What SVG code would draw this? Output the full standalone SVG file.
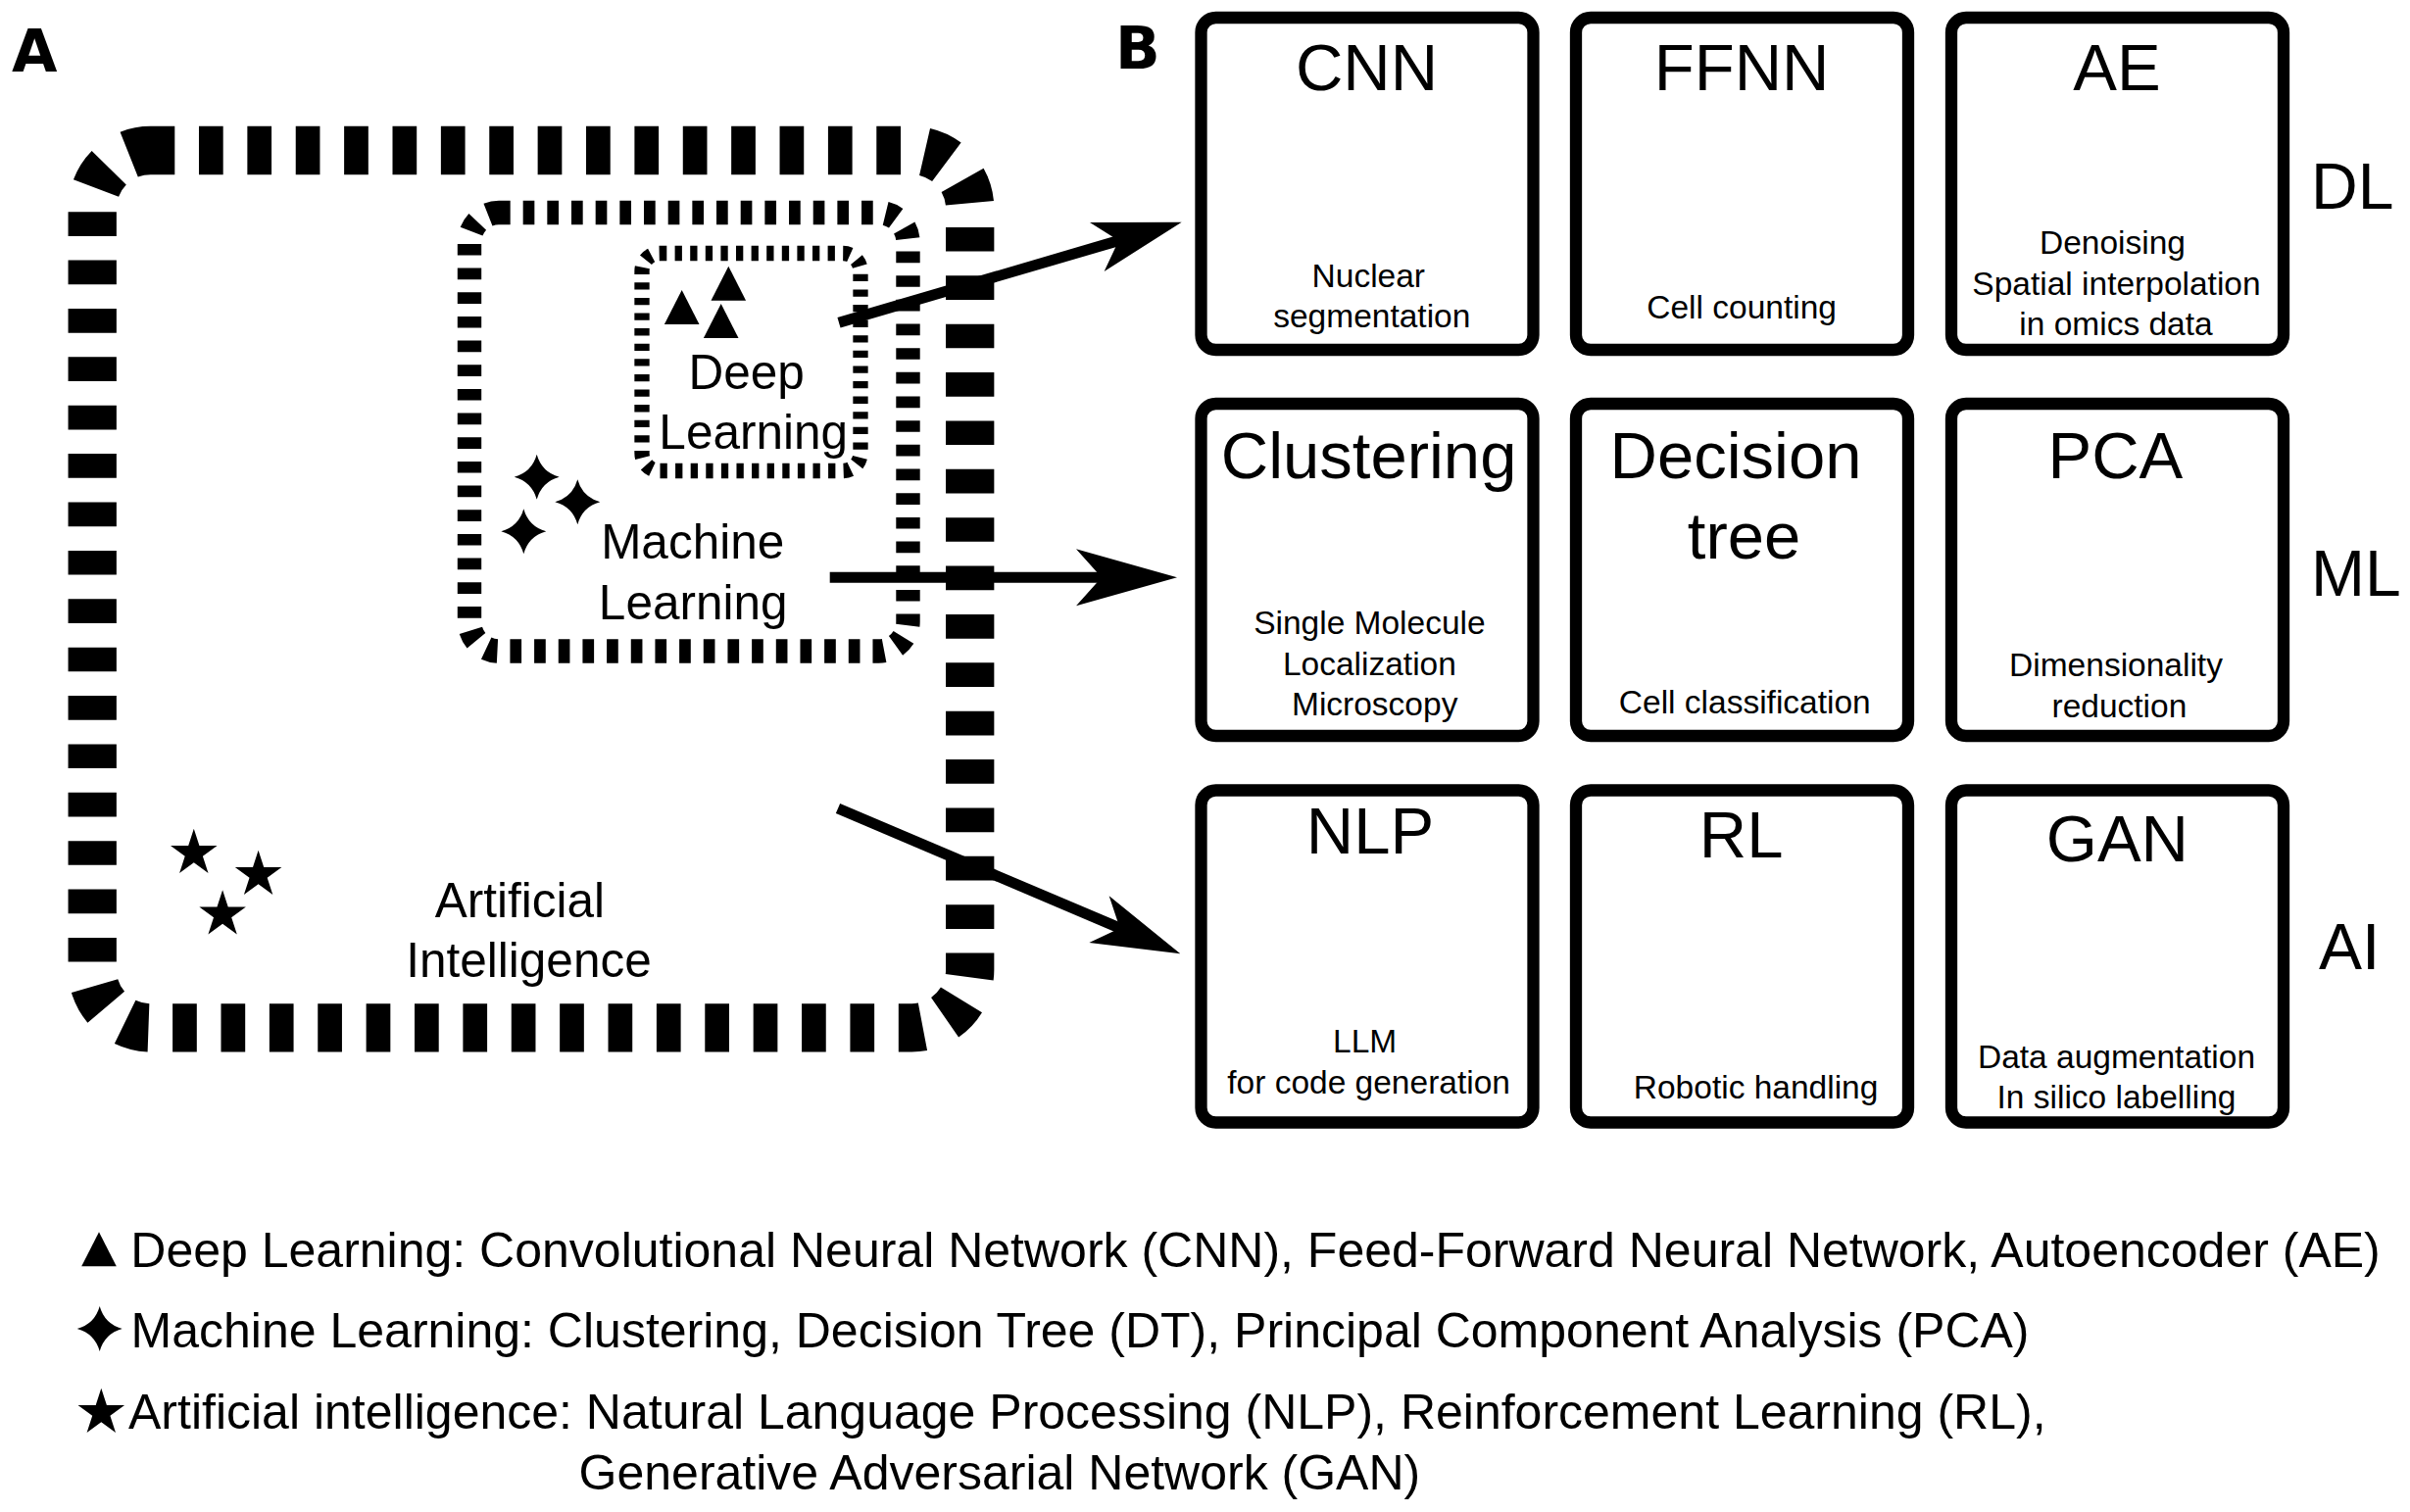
<svg xmlns="http://www.w3.org/2000/svg" xmlns:xlink="http://www.w3.org/1999/xlink" width="2459" height="1543" viewBox="0 0 2459 1543">
<style>
.t{font-family:"Liberation Sans",Arial,sans-serif;fill:#000}
.title{font-size:67px;text-anchor:middle}
.sub{font-size:33.5px;text-anchor:middle}
.row{font-size:66px}
.lbl{font-size:49.5px;text-anchor:middle}
.leg{font-size:50px}
.panel{font-family:"DejaVu Sans",sans-serif;font-weight:bold;font-size:60px;fill:#000}
.box{fill:#fff;stroke:#000;stroke-width:12.3}
.conn{stroke:#000;stroke-width:11;fill:none}
.reg{fill:none;stroke:#000}
</style>
<defs>
<path id="tri" d="M0,0 L17.8,35 L-17.8,35 Z"/>
<path id="spark" d="M0,-23 Q5,-5 23,0 Q5,5 0,23 Q-5,5 -23,0 Q-5,-5 0,-23 Z"/>
<path id="star" d="M0,-25 L5.61,-7.73 L23.78,-7.73 L9.08,2.95 L14.69,20.23 L0,9.55 L-14.69,20.23 L-9.08,2.95 L-23.78,-7.73 L-5.61,-7.73 Z"/>
<marker id="ah" markerUnits="userSpaceOnUse" viewBox="-40 -30 110 60" markerWidth="110" markerHeight="60" refX="0" refY="0" orient="auto" overflow="visible"><path d="M60,0 L-30,-26 L-7,0 L-30,26 Z" fill="#000"/></marker>
<marker id="ahL" markerUnits="userSpaceOnUse" viewBox="-50 -35 120 70" markerWidth="120" markerHeight="70" refX="0" refY="0" orient="auto" overflow="visible"><path d="M60,0 L-43,-29 L-17,0 L-43,29 Z" fill="#000"/></marker>
</defs>
<rect x="0" y="0" width="2459" height="1543" fill="#fff"/>

<g id="panel-labels">
<text class="panel" x="12" y="72.7">A</text>
<text class="panel" x="1138" y="70">B</text>
</g>

<g id="ai-region">
<rect class="reg" x="94.2" y="153.5" width="895.5" height="895.3" rx="59.4" stroke-width="49.3" stroke-dasharray="24.7 24.68"/>
<use xlink:href="#star" x="197.8" y="870.7"/>
<use xlink:href="#star" x="263.6" y="892.7"/>
<use xlink:href="#star" x="227.1" y="933.3"/>
<text class="t lbl" x="530.4" y="936">Artificial</text>
<text class="t lbl" x="539.5" y="997.3">Intelligence</text>
</g>

<g id="ml-region">
<rect class="reg" x="479" y="217" width="447.5" height="447.5" rx="30" stroke-width="24.4" stroke-dasharray="11.67 13"/>
<use xlink:href="#spark" x="547.7" y="486.7"/>
<use xlink:href="#spark" x="589.3" y="512.3"/>
<use xlink:href="#spark" x="534.3" y="542.3"/>
<text class="t lbl" x="706.7" y="570">Machine</text>
<text class="t lbl" x="707.2" y="631.7">Learning</text>
</g>

<g id="dl-region">
<rect class="reg" x="655" y="258.5" width="223" height="222" rx="18" stroke-width="15.3" stroke-dasharray="7.3 8.3"/>
<use xlink:href="#tri" x="695.7" y="296"/>
<use xlink:href="#tri" x="743.3" y="271.7"/>
<use xlink:href="#tri" x="735.7" y="310"/>
<text class="t lbl" x="761.7" y="396.7">Deep</text>
<text class="t lbl" x="768.7" y="458.3">Learning</text>
</g>

<g id="connectors">
<path class="conn" d="M856,329.3 L1148.1,243.6" marker-end="url(#ah)"/>
<path class="conn" d="M846.7,589.3 L1141,589.3" marker-end="url(#ahL)"/>
<path class="conn" d="M855,825 L1149.1,949.9" marker-end="url(#ah)"/>
</g>

<g id="box-cnn">
<rect class="box" x="1225.5" y="18" width="339" height="339" rx="15"/>
<text class="t title" x="1394.5" y="92">CNN</text>
<text class="t sub" x="1396.3" y="293.3">Nuclear</text>
<text class="t sub" x="1399.8" y="333.8">segmentation</text>
</g>
<g id="box-ffnn">
<rect class="box" x="1608" y="18" width="339" height="339" rx="15"/>
<text class="t title" x="1777.1" y="92">FFNN</text>
<text class="t sub" x="1777.1" y="324.8">Cell counting</text>
</g>
<g id="box-ae">
<rect class="box" x="1991" y="18" width="339" height="339" rx="15"/>
<text class="t title" x="2160" y="92">AE</text>
<text class="t sub" x="2155.5" y="259.3">Denoising</text>
<text class="t sub" x="2159.5" y="300.7">Spatial interpolation</text>
<text class="t sub" x="2159" y="342.1">in omics data</text>
</g>

<g id="box-clustering">
<rect class="box" x="1225.5" y="412" width="339" height="339" rx="15"/>
<text class="t title" x="1396.6" y="487.5">Clustering</text>
<text class="t sub" x="1397.4" y="647">Single Molecule</text>
<text class="t sub" x="1397.4" y="688.5">Localization</text>
<text class="t sub" x="1402.7" y="730">Microscopy</text>
</g>
<g id="box-dt">
<rect class="box" x="1608" y="412" width="339" height="339" rx="15"/>
<text class="t title" x="1771" y="487.5">Decision</text>
<text class="t title" x="1779.5" y="570">tree</text>
<text class="t sub" x="1780.3" y="727.5">Cell classification</text>
</g>
<g id="box-pca">
<rect class="box" x="1991" y="412" width="339" height="339" rx="15"/>
<text class="t title" x="2158.4" y="487.5">PCA</text>
<text class="t sub" x="2159" y="690">Dimensionality</text>
<text class="t sub" x="2162.4" y="731.5">reduction</text>
</g>

<g id="box-nlp">
<rect class="box" x="1225.5" y="806.5" width="339" height="339" rx="15"/>
<text class="t title" x="1398" y="870.5">NLP</text>
<text class="t sub" x="1392.6" y="1074">LLM</text>
<text class="t sub" x="1396.6" y="1115.5">for code generation</text>
</g>
<g id="box-rl">
<rect class="box" x="1608" y="806.5" width="339" height="339" rx="15"/>
<text class="t title" x="1776.7" y="874.5">RL</text>
<text class="t sub" x="1791.6" y="1120.5">Robotic handling</text>
</g>
<g id="box-gan">
<rect class="box" x="1991" y="806.5" width="339" height="339" rx="15"/>
<text class="t title" x="2160.4" y="879">GAN</text>
<text class="t sub" x="2159.5" y="1089.5">Data augmentation</text>
<text class="t sub" x="2159.5" y="1131">In silico labelling</text>
</g>

<g id="row-labels">
<text class="t row" x="2358" y="212.5">DL</text>
<text class="t row" x="2358" y="607.5">ML</text>
<text class="t row" x="2366" y="988.5">AI</text>
</g>

<g id="legend">
<use xlink:href="#tri" x="101" y="1257.3"/>
<text class="t leg" x="133.3" y="1292.8">Deep Learning: Convolutional Neural Network (CNN), Feed-Forward Neural Network, Autoencoder (AE)</text>
<use xlink:href="#spark" x="101.7" y="1356"/>
<text class="t leg" x="133.6" y="1375">Machine Learning: Clustering, Decision Tree (DT), Principal Component Analysis (PCA)</text>
<use xlink:href="#star" x="103.3" y="1441.7"/>
<text class="t leg" x="131" y="1458.3">Artificial intelligence: Natural Language Processing (NLP), Reinforcement Learning (RL),</text>
<text class="t leg" x="590.6" y="1520">Generative Adversarial Network (GAN)</text>
</g>
</svg>
